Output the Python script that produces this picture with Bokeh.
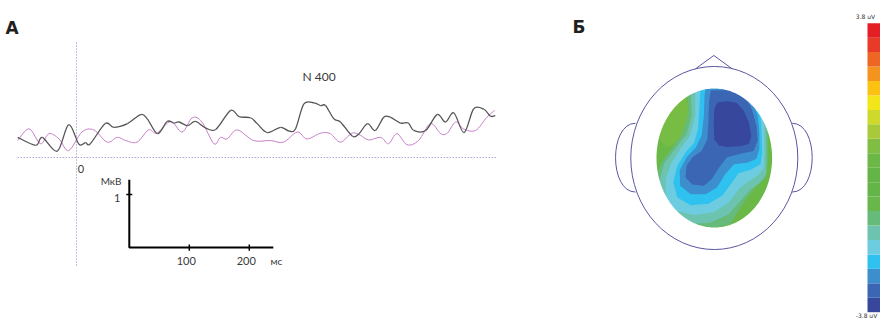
import numpy as np
from bokeh.plotting import figure
from bokeh.models import Range1d
from bokeh.embed import file_html
from bokeh.resources import INLINE
from bokeh.core.properties import value

# ---------------- Panel A: ERP traces (time in ms, amplitude in µV) ----------------
T_BLACK = [-98, -68, -57, -32, -13, 4, 15, 23, 48, 62, 85, 107, 118, 135, 151, 162, 171, 185,
           198, 215, 232, 257, 271, 290, 301, 318, 340, 354, 365, 379, 396, 407, 415, 429, 440,
           460, 471, 485, 498, 512, 523, 540, 553, 562, 582, 601, 615, 629, 646, 662, 679, 690, 698]
V_BLACK = [0.38, 0.23, 0.38, 0.12, 0.62, 0.25, 0.28, 0.26, 0.64, 0.57, 0.64, 0.81, 0.73, 0.45,
           0.68, 0.65, 0.67, 0.60, 0.68, 0.56, 0.53, 0.89, 0.77, 0.75, 0.64, 0.47, 0.57, 0.50,
           0.54, 1.01, 1.03, 0.98, 0.98, 0.73, 0.67, 0.40, 0.45, 0.64, 0.51, 0.76, 0.76, 0.65,
           0.65, 0.51, 0.51, 0.81, 0.67, 0.84, 0.47, 0.92, 0.91, 0.78, 0.79]

T_PINK = [-98, -79, -60, -46, -29, -13, 9, 29, 51, 68, 82, 101, 120, 134, 157, 176, 193, 209,
          229, 240, 251, 268, 295, 323, 345, 368, 384, 407, 423, 440, 459, 473, 487, 507, 520,
          534, 551, 570, 590, 607, 618, 632, 645, 665, 684, 697]
V_PINK = [0.32, 0.54, 0.26, 0.45, 0.35, 0.13, 0.48, 0.52, 0.29, 0.38, 0.32, 0.29, 0.52, 0.46,
          0.68, 0.48, 0.75, 0.67, 0.26, 0.38, 0.35, 0.52, 0.32, 0.32, 0.29, 0.48, 0.35, 0.46,
          0.45, 0.29, 0.46, 0.42, 0.33, 0.38, 0.26, 0.45, 0.24, 0.32, 0.64, 0.45, 0.46, 0.67,
          0.54, 0.51, 0.76, 0.89]

PEAK_LABEL = "N 400"
ZERO_LABEL = "0"
SCALE_X_TICKS = [100, 200]
SCALE_X_LABELS = ["100", "200"]
SCALE_Y_TICK = 1
SCALE_Y_LABEL = "1"
UNIT_X = "мс"
UNIT_Y = "МкВ"

# ---------------- Panel Б: topographic map (normalised scalp coords) ----------------
CBAR_MIN, CBAR_MAX = -3.8, 3.8
# colour bands, bottom (-3.8) to top (+3.8)
CBAR_COLORS = ["#37489c", "#3b66b3", "#3c8ecd", "#2fc2f0", "#6dcce0", "#6cc4b0", "#66ba7a",
               "#69b74a", "#64b447", "#64b447", "#6cb846", "#80be43", "#a8ca3a", "#cfd92b",
               "#f2e51a", "#fcc213", "#f4941f", "#ee6524", "#e83a28", "#e31e24"]
CBAR_LABELS = ["3.8 uV", "-3.8 uV"]

MAP_BASE_COLOR = "#6ab947"
MAP_LIGHT_COLOR = "#78bd43"
LIGHT_U = [-0.93, -0.70, -0.50, -0.44, -0.48, -0.61, -0.82, -0.94, -0.98]
LIGHT_V = [0.80, 0.92, 0.90, 0.65, 0.41, 0.25, 0.15, 0.27, 0.56]

# nested iso-regions from outermost (least negative) to innermost (most negative)
L1_U = [-0.47, 0.77, 0.94, 0.93, 0.93, 0.89, 0.74, 0.57, 0.42, 0.28, -0.07, -0.53, -0.87, -1.0, -1.0, -0.92, -0.76, -0.58, -0.49, -0.45, -0.46]
L1_V = [1.0, 1.0, 0.75, 0.37, -0.07, -0.28, -0.40, -0.57, -0.76, -0.95, -1.02, -1.02, -0.93, -0.69, -0.26, -0.07, 0.11, 0.32, 0.51, 0.68, 0.83]
L2_U = [-0.40, 0.71, 0.88, 0.90, 0.90, 0.90, 0.80, 0.63, 0.45, 0.25, -0.07, -0.47, -0.79, -0.93, -0.96, -0.86, -0.66, -0.48, -0.39, -0.40]
L2_V = [1.0, 1.0, 0.80, 0.46, 0.03, -0.23, -0.35, -0.45, -0.62, -0.81, -0.93, -0.95, -0.88, -0.69, -0.35, -0.07, 0.15, 0.34, 0.61, 0.83]
L3_U = [-0.33, 0.625, 0.83, 0.86, 0.87, 0.86, 0.74, 0.60, 0.42, 0.25, -0.01, -0.35, -0.67, -0.84, -0.84, -0.74, -0.57, -0.42, -0.33, -0.33]
L3_V = [1.0, 1.0, 0.82, 0.51, 0.13, -0.14, -0.26, -0.33, -0.45, -0.64, -0.78, -0.82, -0.76, -0.59, -0.30, -0.07, 0.15, 0.32, 0.61, 0.87]
L4_U = [-0.24, 0.51, 0.74, 0.80, 0.82, 0.83, 0.80, 0.63, 0.42, 0.28, 0.14, -0.10, -0.41, -0.64, -0.71, -0.64, -0.50, -0.35, -0.28, -0.26]
L4_V = [1.0, 1.0, 0.87, 0.61, 0.37, 0.08, -0.09, -0.17, -0.22, -0.38, -0.54, -0.66, -0.68, -0.57, -0.35, -0.11, 0.08, 0.22, 0.42, 0.70]
L5_U = [-0.15, 0.42, 0.65, 0.75, 0.78, 0.78, 0.73, 0.57, 0.34, 0.19, 0.05, -0.15, -0.41, -0.59, -0.60, -0.48, -0.32, -0.22, -0.18, -0.17]
L5_V = [1.0, 0.99, 0.85, 0.61, 0.37, 0.13, -0.01, -0.07, -0.09, -0.23, -0.42, -0.52, -0.52, -0.40, -0.18, 0.01, 0.15, 0.32, 0.61, 0.89]
L6_U = [-0.06, 0.34, 0.54, 0.65, 0.73, 0.75, 0.68, 0.45, 0.22, 0.08, -0.04, -0.18, -0.38, -0.50, -0.48, -0.38, -0.22, -0.12, -0.10, -0.09]
L6_V = [0.97, 0.98, 0.87, 0.70, 0.46, 0.25, 0.10, 0.06, 0.01, -0.14, -0.30, -0.40, -0.38, -0.28, -0.11, 0.01, 0.10, 0.27, 0.56, 0.82]
L7_U = [0.05, 0.22, 0.39, 0.51, 0.60, 0.64, 0.60, 0.45, 0.22, 0.08, 0.00, -0.01, 0.00]
L7_V = [0.80, 0.82, 0.79, 0.68, 0.51, 0.32, 0.20, 0.17, 0.16, 0.18, 0.27, 0.51, 0.70]
REGIONS_U = [L1_U, L2_U, L3_U, L4_U, L5_U, L6_U, L7_U]
REGIONS_V = [L1_V, L2_V, L3_V, L4_V, L5_V, L6_V, L7_V]
REGION_COLORS = [CBAR_COLORS[6], CBAR_COLORS[5], CBAR_COLORS[4], CBAR_COLORS[3],
                 CBAR_COLORS[2], CBAR_COLORS[1], CBAR_COLORS[0]]

# ---------------- figure ----------------
W, H = 880, 320
p = figure(width=W, height=H, x_range=Range1d(0, W), y_range=Range1d(H, 0),
           output_backend="svg", toolbar_location=None, min_border=0,
           x_axis_location=None, y_axis_location=None, outline_line_color=None)
p.xgrid.grid_line_color = None
p.ygrid.grid_line_color = None
p.background_fill_color = "white"
p.border_fill_color = "white"

p.extra_x_ranges = {"t": Range1d(-126.667, 1340.0), "map": Range1d(-12.3495, 2.8754)}
p.extra_y_ranges = {"uv": Range1d(-3.0755, 2.9623), "map": Range1d(-2.3381, 2.2662),
                    "cb": Range1d(-4.018, 4.397)}

A = dict(x_range_name="t", y_range_name="uv")
M = dict(x_range_name="map", y_range_name="map")

# dotted reference lines
DOT = "#8080c4"
p.line([0, 0], [2.17, -2.04], line_color=DOT, line_dash="1 2", line_width=1, **A)
p.line([-98, 702], [0, 0], line_color=DOT, line_dash="1 2", line_width=1, **A)


def smooth(xs, ys, color, width):
    x = np.asarray(xs, float)
    y = np.asarray(ys, float)
    xp = np.concatenate([[x[0]], x, [x[-1]]])
    yp = np.concatenate([[y[0]], y, [y[-1]]])
    i = np.arange(len(x) - 1)
    cx0 = xp[i + 1] + (xp[i + 2] - xp[i]) / 6
    cy0 = yp[i + 1] + (yp[i + 2] - yp[i]) / 6
    cx1 = xp[i + 2] - (xp[i + 3] - xp[i + 1]) / 6
    cy1 = yp[i + 2] - (yp[i + 3] - yp[i + 1]) / 6
    p.bezier(x0=x[:-1], y0=y[:-1], x1=x[1:], y1=y[1:], cx0=cx0, cy0=cy0, cx1=cx1, cy1=cy1,
             line_color=color, line_width=width, **A)


smooth(T_PINK, V_PINK, "#c77fca", 1.0)
smooth(T_BLACK, V_BLACK, "#555555", 1.3)

FONT = value("Lato")
TXT = "#3a3a3a"
p.text(x=[(302 - 76) / 0.6], y=[(157 - 76) / 53], text=[PEAK_LABEL], text_font=FONT,
       text_font_size="12px", text_color=TXT, text_baseline="middle", **A)
p.text(x=[2], y=[-0.21], text=[ZERO_LABEL], text_font=FONT, text_font_size="11px",
       text_color=TXT, text_baseline="middle", **A)

# scale bar
T0, V0 = 88.0, -1.70
XLEN, YLEN = 240.0, 1.28
p.line([T0, T0, T0 + XLEN], [V0 + YLEN, V0, V0], line_color="black", line_width=2, **A)
for tk in SCALE_X_TICKS:
    p.line([T0 + tk, T0 + tk], [V0 - 0.06, V0 + 0.06], line_color="black", line_width=1.5, **A)
p.line([T0 - 5, T0 + 5], [V0 + SCALE_Y_TICK, V0 + SCALE_Y_TICK], line_color="black",
       line_width=1.5, **A)
p.text(x=[T0 + tk - 5 for tk in SCALE_X_TICKS], y=[V0 - 0.26] * 2, text=SCALE_X_LABELS,
       text_font=FONT, text_font_size="11px", text_color=TXT, text_align="center",
       text_baseline="middle", **A)
p.text(x=[T0 + 245], y=[V0 - 0.26], text=[UNIT_X], text_font=FONT, text_font_size="10px",
       text_color=TXT, text_align="center", text_baseline="middle", **A)
p.text(x=[T0 - 13], y=[V0 + 1.25], text=[UNIT_Y], text_font=FONT, text_font_size="10px",
       text_color=TXT, text_align="right", text_baseline="middle", **A)
p.text(x=[T0 - 15], y=[V0 + SCALE_Y_TICK - 0.07], text=[SCALE_Y_LABEL], text_font=FONT,
       text_font_size="11px", text_color=TXT, text_align="right",
       text_baseline="middle", **A)

# panel letters
p.text(x=[5, 572], y=[27, 26], text=["А", "Б"], text_font=value("DejaVu Sans"),
       text_font_style="bold", text_font_size="17px", text_color="#231f20",
       text_baseline="alphabetic")

# topographic map
p.quad(left=[-1.2], right=[1.2], bottom=[-1.15], top=[1.15], fill_color=MAP_BASE_COLOR,
       line_color=None, **M)
p.patch(LIGHT_U, LIGHT_V, fill_color=MAP_LIGHT_COLOR, line_color=None, **M)
for ru, rv, rc in zip(REGIONS_U, REGIONS_V, REGION_COLORS):
    p.patch(ru, rv, fill_color=rc, line_color=None, **M)

th = np.linspace(0, 2 * np.pi, 241)
rect_x = [-1.25, 1.25, 1.25, -1.25]
rect_y = [-1.2, -1.2, 1.2, 1.2]
p.multi_polygons(xs=[[[rect_x, list(np.cos(th))]]], ys=[[[rect_y, list(np.sin(th))]]],
                 fill_color="white", line_color=None, **M)

# head outline
HEAD = "#5b56a0"
HEAD_RX, HEAD_RY = 1.445, 1.317
p.ellipse(x=[0], y=[0], width=[2 * HEAD_RX], height=[2 * HEAD_RY], fill_color=None,
          line_color=HEAD, line_width=1, **M)
p.line([-0.325, -0.009, 0.31], [1.283, 1.475, 1.283], line_color=HEAD, line_width=1, **M)
p.bezier(x0=[-1.363, 1.348], y0=[0.50, 0.50], x1=[-1.363, 1.348], y1=[-0.49, -0.49],
         cx0=[-1.824, 1.809], cy0=[0.50, 0.50], cx1=[-1.824, 1.809], cy1=[-0.49, -0.49],
         line_color=HEAD, line_width=1, **M)

# colour bar
levels = np.linspace(CBAR_MIN, CBAR_MAX, len(CBAR_COLORS) + 1)
p.quad(left=867, right=880, bottom=levels[:-1], top=levels[1:], fill_color=CBAR_COLORS,
       line_color=None, y_range_name="cb")
p.text(x=[865, 866], y=[16, 315], text=CBAR_LABELS, text_font=value("DejaVu Sans"),
       text_font_size="6px", text_color="#333333", text_align="center",
       text_baseline="middle")

open("out.html", "w").write(file_html(p, INLINE))
